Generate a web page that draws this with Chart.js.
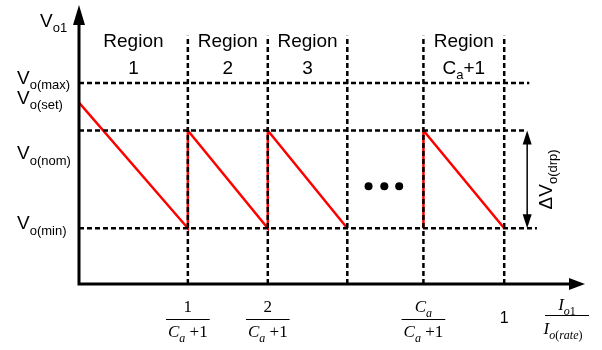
<!DOCTYPE html>
<html>
<head>
<meta charset="utf-8">
<script src="https://cdn.jsdelivr.net/npm/chart.js"></script>
<style>
html, body { margin: 0; padding: 0; background: #fff; }
#chart-container { width: 602px; height: 350px; }
</style>
</head>
<body>
<div id="chart-container"><canvas id="MainChart" width="602" height="350"></canvas></div>
<script>
// load axis is Io1 / Io(rate), region boundaries on it
var boundaryX = [0, 0.256, 0.444, 0.631, 0.81, 1.0];
var regionNames = ["1", "2", "3", "C_{a}+1"];
var regionGaps = [0, 1, 2, 4]; // gap index under each region name

// voltage levels, arbitrary units (axis 0..100)
var levelNames = ["V_{o(max)}", "V_{o(set)}", "V_{o(nom)}", "V_{o(min)}"];
var levelValues = [72, 65, 45, 20];
var vPeak = 55; // top of every sawtooth
var vMin = 20;

// dashed reference lines
var hLineValues = [72, 55, 20];
var hLineEnds = [1.059, 1.052, 1.077];
var vLineTop = 89;

// sawtooth, null = break before the last region
var sawX = [0, 0.256, 0.256, 0.444, 0.444, 0.631, null, 0.81, 0.81, 1.0];
var sawY = [65, 20, 55, 20, 55, 20, null, 20, 55, 20];

// the "..." between region 3 and region Ca+1
var dotsX = [0.681, 0.718, 0.753];
var dotsY = [35, 35, 35];

// x tick labels (fractions)
var xTickValues = [0.256, 0.444, 0.81, 1.0];
var xTickNum = ["1", "2", "C_{a}", "1"];
var xTickDen = ["C_{a} +1", "C_{a} +1", "C_{a} +1", ""];

var dropArrowX = 1.054;
var SANS = '"Liberation Sans", Arial, sans-serif';
var SERIF = '"Liberation Serif", "Times New Roman", serif';

function parseRich(str) {
    var runs = [], re = /_\{([^}]*)\}/g, last = 0, m;
    while ((m = re.exec(str)) !== null) {
        if (m.index > last) runs.push({t: str.slice(last, m.index), sub: false});
        runs.push({t: m[1], sub: true});
        last = re.lastIndex;
    }
    if (last < str.length) runs.push({t: str.slice(last), sub: false});
    return runs;
}

function pieces(str, st) {
    var out = [];
    parseRich(str).forEach(function(r) {
        if (!st.italicLetters) { out.push({t: r.t, sub: r.sub, it: false}); return; }
        (r.t.match(/[A-Za-z]+|[^A-Za-z]+/g) || []).forEach(function(p) {
            out.push({t: p, sub: r.sub, it: /[A-Za-z]/.test(p)});
        });
    });
    return out;
}

function setFont(ctx, p, st) {
    ctx.font = (p.it ? 'italic ' : '') + (p.sub ? st.sub : st.size) + 'px ' + st.family;
}

function richWidth(ctx, str, st) {
    var w = 0;
    pieces(str, st).forEach(function(p) { setFont(ctx, p, st); w += ctx.measureText(p.t).width; });
    return w;
}

function drawRich(ctx, str, x, y, st, align) {
    var w = richWidth(ctx, str, st);
    var cx = align === 'center' ? x - w / 2 : (align === 'right' ? x - w : x);
    ctx.textAlign = 'left';
    ctx.textBaseline = 'alphabetic';
    pieces(str, st).forEach(function(p) {
        setFont(ctx, p, st);
        ctx.fillText(p.t, cx, p.sub ? y + st.size * 0.28 : y);
        cx += ctx.measureText(p.t).width;
    });
    return w;
}

function arrowHead(ctx, x, y, dx, dy, len, half) {
    // tip at (x,y), pointing along (dx,dy)
    var bx = x - dx * len, by = y - dy * len;
    ctx.beginPath();
    ctx.moveTo(x, y);
    ctx.lineTo(bx - dy * half, by + dx * half);
    ctx.lineTo(bx + dy * half, by - dx * half);
    ctx.closePath();
    ctx.fill();
}

var sketchPlugin = {
    id: 'sketch',
    afterDatasetsDraw: function(chart) {
        var ctx = chart.ctx, xs = chart.scales.x, ys = chart.scales.y, a = chart.chartArea;
        ctx.save();
        ctx.fillStyle = '#000';
        ctx.strokeStyle = '#000';

        // axes with arrows
        ctx.lineWidth = 3;
        ctx.beginPath();
        ctx.moveTo(a.left, a.bottom + 1.5);
        ctx.lineTo(a.left, a.top + 16);
        ctx.moveTo(a.left - 1.5, a.bottom);
        ctx.lineTo(a.right - 12, a.bottom);
        ctx.stroke();
        arrowHead(ctx, a.left, a.top, 0, -1, 20, 6);
        arrowHead(ctx, a.right, a.bottom, 1, 0, 16, 6);

        // delta V drop arrow
        var dx = xs.getPixelForValue(dropArrowX);
        var y1 = ys.getPixelForValue(vPeak), y2 = ys.getPixelForValue(vMin);
        ctx.lineWidth = 1.5;
        ctx.beginPath();
        ctx.moveTo(dx, y1 + 10);
        ctx.lineTo(dx, y2 - 10);
        ctx.stroke();
        arrowHead(ctx, dx, y1, 0, -1, 14, 4.5);
        arrowHead(ctx, dx, y2, 0, 1, 14, 4.5);

        var sans = {size: 19, sub: 13, family: SANS};
        ctx.save();
        ctx.translate(dx + 18, (y1 + y2) / 2);
        ctx.rotate(-Math.PI / 2);
        drawRich(ctx, "\u0394V_{o(drp)}", 0, 7, sans, 'center');
        ctx.restore();

        // y labels
        drawRich(ctx, "V_{o1}", a.left - 39, a.top + 22, sans, 'left');
        for (var i = 0; i < levelNames.length; i++) {
            drawRich(ctx, levelNames[i], a.left - 62, ys.getPixelForValue(levelValues[i]) + 1, sans, 'left');
        }

        // region names
        for (var r = 0; r < regionNames.length; r++) {
            var g = regionGaps[r];
            var cx = (xs.getPixelForValue(boundaryX[g]) + xs.getPixelForValue(boundaryX[g + 1])) / 2;
            drawRich(ctx, "Region", cx, a.top + 42, sans, 'center');
            drawRich(ctx, regionNames[r], cx, a.top + 69, sans, 'center');
        }

        // x tick fractions
        var serif = {size: 17, sub: 12, family: SERIF, italicLetters: true};
        for (var t = 0; t < xTickValues.length; t++) {
            var tx = xs.getPixelForValue(xTickValues[t]);
            if (xTickDen[t] === "") {
                drawRich(ctx, xTickNum[t], tx, a.bottom + 39, {size: 16, sub: 11, family: SANS}, 'center');
                continue;
            }
            var w = Math.max(richWidth(ctx, xTickNum[t], serif), richWidth(ctx, xTickDen[t], serif)) + 4;
            drawRich(ctx, xTickNum[t], tx, a.bottom + 28, serif, 'center');
            ctx.lineWidth = 1;
            ctx.beginPath();
            ctx.moveTo(tx - w / 2, a.bottom + 35.5);
            ctx.lineTo(tx + w / 2, a.bottom + 35.5);
            ctx.stroke();
            drawRich(ctx, xTickDen[t], tx, a.bottom + 53, serif, 'center');
        }

        // axis title Io1 / Io(rate)
        var ax = a.right - 18;
        drawRich(ctx, "I_{o1}", ax, a.bottom + 26, serif, 'center');
        ctx.lineWidth = 1;
        ctx.beginPath();
        ctx.moveTo(ax - 22, a.bottom + 31.5);
        ctx.lineTo(ax + 22, a.bottom + 31.5);
        ctx.stroke();
        drawRich(ctx, "I_{o(rate)}", ax - 4, a.bottom + 50, serif, 'center');

        ctx.restore();
    }
};

var datasets = [];
// horizontal dashed lines
for (var h = 0; h < hLineValues.length; h++) {
    datasets.push({
        data: [{x: 0, y: hLineValues[h]}, {x: hLineEnds[h], y: hLineValues[h]}],
        borderColor: '#000', borderWidth: 2.5, borderDash: [5, 3], pointRadius: 0
    });
}
// vertical dashed lines at region boundaries
for (var b = 1; b < boundaryX.length; b++) {
    datasets.push({
        data: [{x: boundaryX[b], y: 0}, {x: boundaryX[b], y: vLineTop}],
        borderColor: '#000', borderWidth: 2.5, borderDash: [5, 3], pointRadius: 0
    });
}
datasets.push({
    data: dotsX.map(function(x, i) { return {x: x, y: dotsY[i]}; }),
    showLine: false, pointRadius: 4, pointBackgroundColor: '#000', pointBorderWidth: 0
});
datasets.push({
    data: sawX.map(function(x, i) { return {x: x, y: sawY[i]}; }),
    borderColor: 'rgb(255, 0, 0)', borderWidth: 2.5, pointRadius: 0, spanGaps: false
});

var MainChart = new Chart(document.getElementById("MainChart").getContext("2d"), {
    type: 'line',
    data: { datasets: datasets },
    options: {
        responsive: false,
        animation: false,
        layout: { padding: { left: 79, top: 5, right: 17, bottom: 66 } },
        scales: {
            x: { type: 'linear', min: 0, max: 1.19, display: false },
            y: { type: 'linear', min: 0, max: 100, display: false }
        },
        plugins: { legend: { display: false }, tooltip: { enabled: false } }
    },
    plugins: [sketchPlugin]
});
</script>
</body>
</html>
